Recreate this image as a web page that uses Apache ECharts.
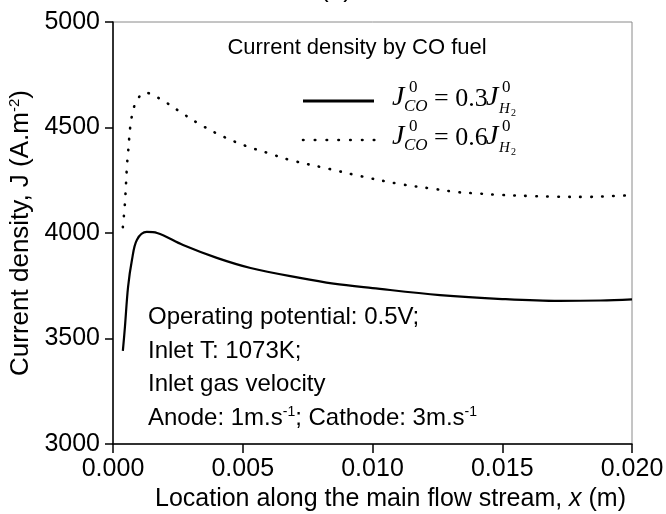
<!DOCTYPE html>
<html>
<head>
<meta charset="utf-8">
<script src="https://cdn.jsdelivr.net/npm/echarts@6/dist/echarts.min.js"></script>
<style>
  html, body { margin: 0; padding: 0; background: #fff; }
  #chart { width: 666px; height: 514px; }
</style>
</head>
<body>
<div id="chart"></div>
<script>
// Position along the channel (m) and current density (A/m^2)
const xRatio03 = [0.00038, 0.00046, 0.00058, 0.00073, 0.00092, 0.0013, 0.0017, 0.0027, 0.0040, 0.0053, 0.0072, 0.0085, 0.0100, 0.0126, 0.0150, 0.0172, 0.0188, 0.0200];
const jRatio03 = [3441, 3555, 3744, 3872, 3967, 4005, 4000, 3943, 3882, 3834, 3787, 3760, 3739, 3706, 3687, 3678, 3680, 3685];

const xRatio06 = [0.00038, 0.00046, 0.00054, 0.00058, 0.00066, 0.00073, 0.00089, 0.00123, 0.00208, 0.00254, 0.00339, 0.00428, 0.00513, 0.00597, 0.00682, 0.00836, 0.00952, 0.01106, 0.01237, 0.01326, 0.01410, 0.01484, 0.01615, 0.01703, 0.01830, 0.01904, 0.0200];
const jRatio06 = [4028, 4142, 4322, 4379, 4498, 4555, 4621, 4665, 4616, 4578, 4512, 4455, 4412, 4379, 4346, 4303, 4270, 4232, 4209, 4194, 4187, 4181, 4175, 4172, 4171, 4174, 4179];

const xRange = [0, 0.02, 0.005];
const yRange = [3000, 5000, 500];

const infoLines = [
  'Operating potential: 0.5V;',
  'Inlet T: 1073K;',
  'Inlet gas velocity',
  'Anode: 1m.s{sup|-1}; Cathode: 3m.s{sup|-1}'
];

const SANS = '"Liberation Sans", Arial, sans-serif';
const SERIF = '"Liberation Serif", "Times New Roman", serif';

function pairs(xs, ys) { return xs.map((x, i) => [x, ys[i]]); }

// Legend entry:  J^0_CO = k J^0_H2
function legendEntry(x0, yc, k) {
  const t = (text, x, y, font) => ({
    type: 'text', x: x, y: y, silent: true,
    style: { text: text, font: font, fill: '#000', align: 'left', verticalAlign: 'middle' }
  });
  return [
    t('J', x0, yc, 'italic 28px ' + SERIF),
    t('0', x0 + 17, yc - 10, '17px ' + SERIF),
    t('CO', x0 + 12, yc + 9, 'italic 17px ' + SERIF),
    t('= ' + k, x0 + 42, yc + 1, '26px ' + SERIF),
    t('J', x0 + 94, yc, 'italic 28px ' + SERIF),
    t('0', x0 + 110, yc - 10, '17px ' + SERIF),
    t('H', x0 + 107, yc + 11, 'italic 15px ' + SERIF),
    t('2', x0 + 119, yc + 15, '10px ' + SERIF)
  ];
}

const chart = echarts.init(document.getElementById('chart'), null, { renderer: 'canvas' });

const option = {
  backgroundColor: '#fff',
  animation: false,
  grid: {
    left: 113, right: 34, top: 22, bottom: 70,
    containLabel: false, outerBoundsMode: 'none',
    show: true, borderColor: '#8a8a8a', borderWidth: 1
  },
  xAxis: {
    type: 'value',
    min: xRange[0], max: xRange[1], interval: xRange[2],
    name: 'Location along the main flow stream, {i|x} (m)',
    nameLocation: 'middle', nameGap: 40,
    nameTextStyle: {
      fontFamily: SANS, fontSize: 25, color: '#000', padding: [0, 0, 0, 36],
      rich: { i: { fontFamily: SANS, fontSize: 25, fontStyle: 'italic', color: '#000' } }
    },
    axisLine: { show: true, lineStyle: { color: '#000', width: 1.5 } },
    axisTick: { show: true, inside: false, length: 9, lineStyle: { color: '#000', width: 1.5 } },
    axisLabel: { fontFamily: SANS, fontSize: 25, color: '#000', margin: 13,
                 formatter: v => v.toFixed(3) },
    splitLine: { show: false }
  },
  yAxis: {
    type: 'value',
    min: yRange[0], max: yRange[1], interval: yRange[2],
    name: 'Current density, J (A.m{sup|-2})',
    nameLocation: 'middle', nameGap: 72, nameRotate: 90,
    nameTextStyle: {
      fontFamily: SANS, fontSize: 26, color: '#000',
      rich: { sup: { fontFamily: SANS, fontSize: 15, color: '#000', verticalAlign: 'top', padding: [0, 0, 10, 0] } }
    },
    axisLine: { show: true, lineStyle: { color: '#000', width: 1.5 } },
    axisTick: { show: true, inside: false, length: 8, lineStyle: { color: '#000', width: 1.5 } },
    axisLabel: { fontFamily: SANS, fontSize: 25, color: '#000', margin: 13,
                 formatter: v => String(v) },
    splitLine: { show: false }
  },
  series: [
    {
      name: 'ratio 0.3', type: 'line', data: pairs(xRatio03, jRatio03),
      smooth: 0.35, showSymbol: false,
      lineStyle: { color: '#000', width: 2.2 }
    },
    {
      name: 'ratio 0.6', type: 'line', data: pairs(xRatio06, jRatio06),
      smooth: 0.35, showSymbol: false,
      lineStyle: { color: '#000', width: 2.6, type: [0.5, 10.5], cap: 'round' }
    }
  ],
  graphic: [
    { type: 'text', x: 336, y: -10, silent: true,
      style: { text: '(a)', font: '26px ' + SANS, fill: '#000', align: 'center', verticalAlign: 'middle' } },
    { type: 'text', x: 357, y: 48, silent: true,
      style: { text: 'Current density by CO fuel', font: '22px ' + SANS, fill: '#000', align: 'center', verticalAlign: 'middle' } },
    { type: 'line', silent: true, shape: { x1: 303, y1: 101, x2: 374, y2: 101 },
      style: { stroke: '#000', lineWidth: 2.8 } },
    { type: 'line', silent: true, shape: { x1: 303, y1: 140, x2: 375, y2: 140 },
      style: { stroke: '#000', lineWidth: 2.6, lineDash: [0.5, 11.3], lineCap: 'round' } },
    ...legendEntry(392, 98, '0.3'),
    ...legendEntry(392, 137, '0.6'),
    ...infoLines.map((line, i) => ({
      type: 'text', x: 148, y: [317, 351, 384, 418][i], silent: true,
      style: {
        text: line, font: '24px ' + SANS, fill: '#000', align: 'left', verticalAlign: 'middle',
        rich: { sup: { fontFamily: SANS, fontSize: 14, fill: '#000', verticalAlign: 'top', padding: [0, 0, 12, 0] } }
      }
    }))
  ]
};

chart.setOption(option);
</script>
</body>
</html>
